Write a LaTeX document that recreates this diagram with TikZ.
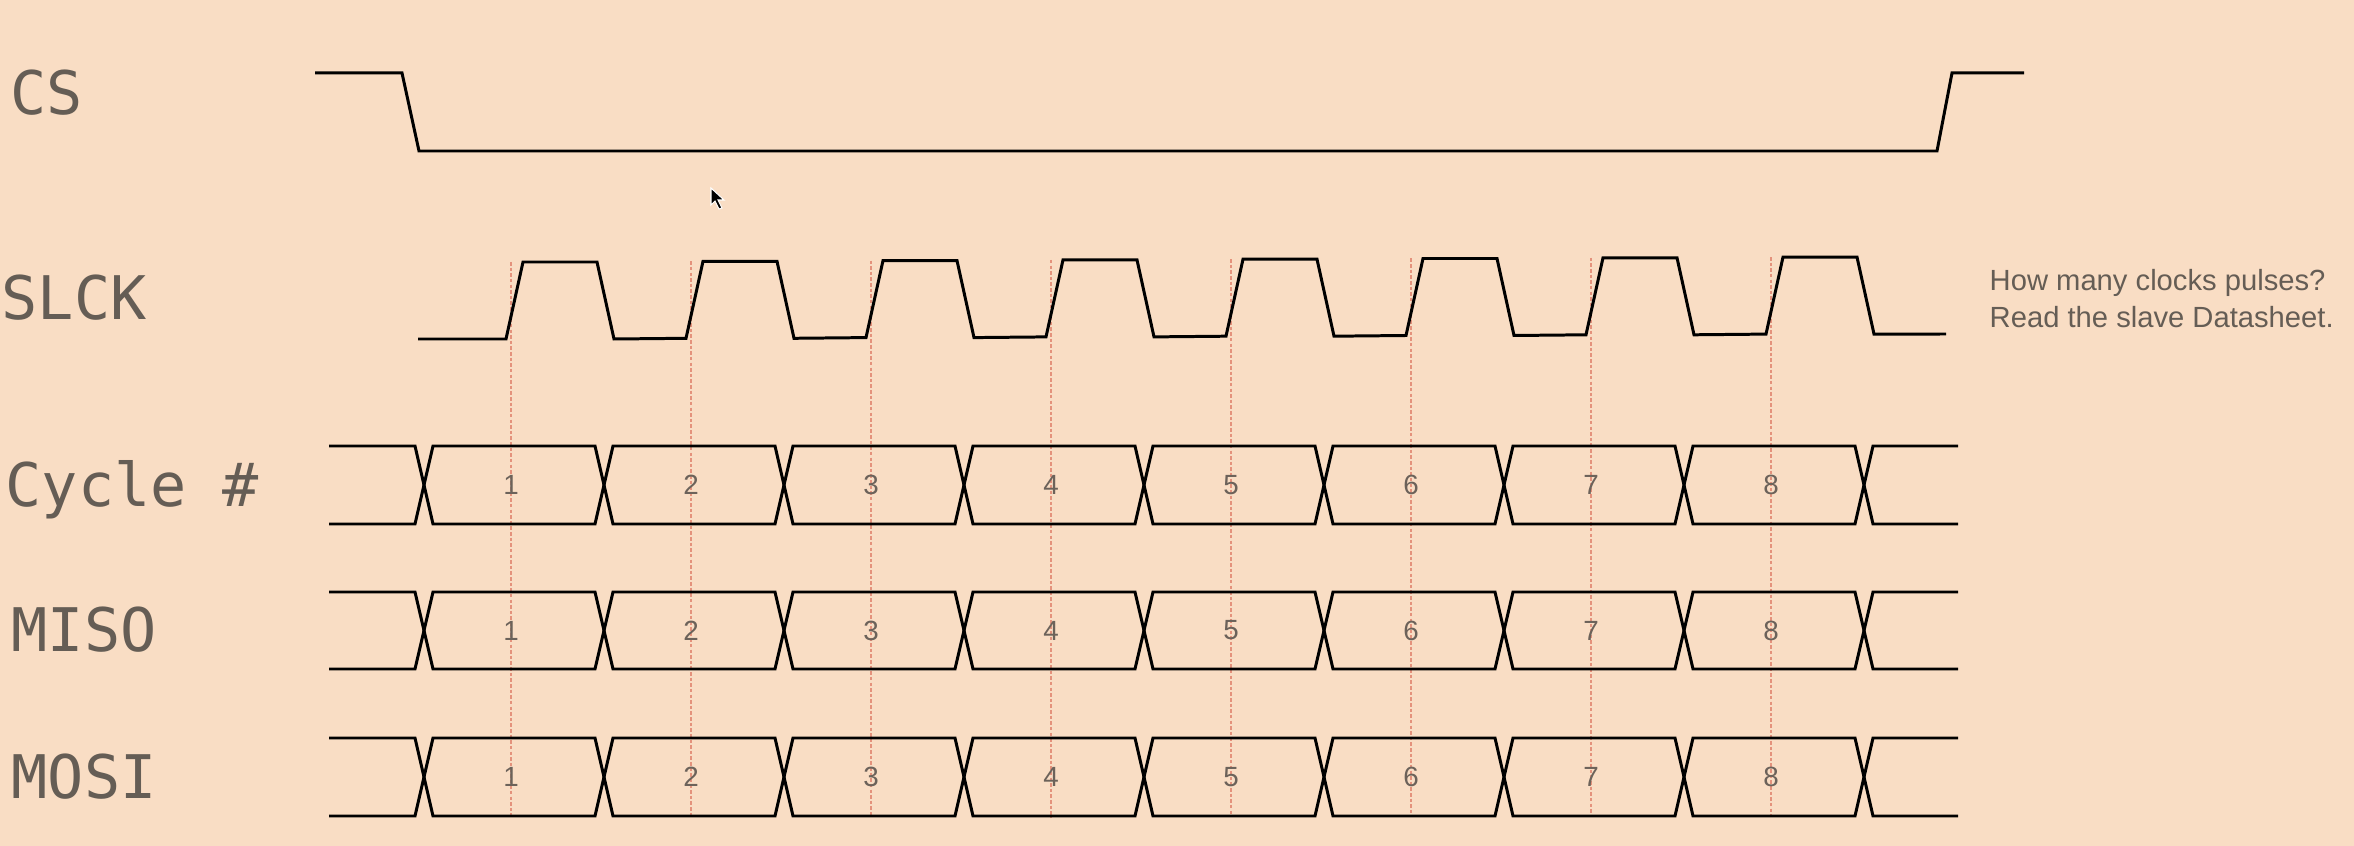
\documentclass[tikz,border=0pt]{standalone}
\usepackage{fontspec}
\setmainfont{Liberation Sans}
\setmonofont{DejaVu Sans Mono}
\usetikzlibrary{positioning}
\definecolor{paper}{RGB}{249,221,196}
\definecolor{ink}{RGB}{101,93,85}
\definecolor{digitgray}{RGB}{108,98,90}
\definecolor{guidered}{RGB}{228,146,124}

\begin{document}
\begin{tikzpicture}[x=0.01cm, y=-0.01cm,
    sigline/.style={line width=0.85pt, line join=miter, black},
    guide/.style={guidered, line width=0.4pt, dash pattern=on 1pt off 0.6pt},
    signame/.style={inner sep=0, anchor=base west, text=ink, font=\ttfamily\fontsize{17.1}{19}\selectfont},
    digit/.style={inner sep=0, text=digitgray, font=\fontsize{7.9}{9}\selectfont},
    note/.style={inner sep=0, anchor=base west, text=ink, font=\fontsize{8.3}{10}\selectfont}
]

% Background
\fill[paper] (0,0) rectangle (2354,846);
\useasboundingbox (0,0) rectangle (2354,846);

% Signal names
\node[signame] (csname) at (10,115) {CS};
\node[signame] (clkname) at (1,320) {SLCK};
\node[signame] (cyclename) at (5,507) {Cycle \#};
\node[signame] (misoname) at (11,652) {MISO};
\node[signame] (mosiname) at (11,798) {MOSI};

% Sampling guides
\foreach \k in {0,...,7}
    \draw[guide] ({511+180*\k},{262-0.7*\k}) -- ({511+180*\k},817);

% Chip select
\draw[sigline] (315,73) -- (402,73) -- (419,151) -- (1937,151) -- (1952,73) -- (2024,73);

% Clock
\draw[sigline] (418,339)
    \foreach \k in {0,...,7} { -- ({506+180*\k},{339-0.7*\k}) -- ({523+180*\k},{262-0.7*\k})
        -- ({597+180*\k},{262-0.7*\k}) -- ({614+180*\k},{339-0.7*\k}) }
    -- (1946,334);

% Data buses
\foreach \t/\b/\bus in {446/524/cycle, 592/669/miso, 738/816/mosi} {
    \draw[sigline] (329,\t) -- (415,\t) -- (424,{(\t+\b)/2}) -- (415,\b) -- (329,\b);
    \draw[sigline] (1958,\t) -- (1873,\t) -- (1864,{(\t+\b)/2}) -- (1873,\b) -- (1958,\b);
    \foreach \k in {1,...,8} {
        \draw[sigline] ({244+180*\k},{(\t+\b)/2}) -- ({253+180*\k},\t) -- ({415+180*\k},\t)
            -- ({424+180*\k},{(\t+\b)/2}) -- ({415+180*\k},\b) -- ({253+180*\k},\b) -- cycle;
        \node[digit] (\bus-\k) at ({331+180*\k},{(\t+\b)/2}) {\k};
    }
}

% Note
\node[note] (note1) at (1989,291) {How many clocks pulses?};
\node[note, below=0.36cm of note1.base west, anchor=base west] (note2) {Read the slave Datasheet.};

% Pointer
\filldraw[fill=black, draw=white, line width=0.3pt] (711,188) -- (711,205) -- (715,201) -- (719,209)
    -- (722,208) -- (718,200) -- (724,200) -- cycle;

\end{tikzpicture}
\end{document}
